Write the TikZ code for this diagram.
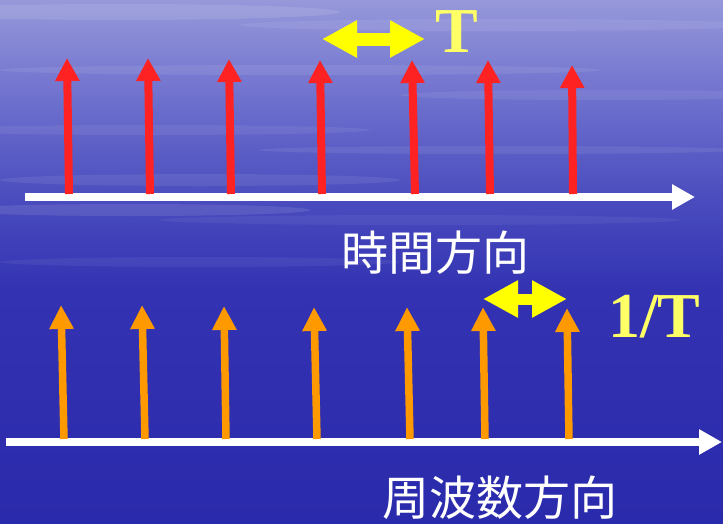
\documentclass[tikz,border=0pt]{standalone}
\usepackage{fontspec}
\setmainfont{Liberation Serif}
\newfontfamily\jpfont{Noto Sans CJK JP}
\usetikzlibrary{arrows.meta}
\definecolor{bgA}{RGB}{150,152,218}
\definecolor{bgB}{RGB}{108,110,205}
\definecolor{bgC}{RGB}{74,76,190}
\definecolor{bgD}{RGB}{50,50,178}
\definecolor{bgE}{RGB}{42,42,172}
\definecolor{redc}{RGB}{255,34,34}
\definecolor{orangec}{RGB}{255,153,0}
\definecolor{yellowc}{RGB}{255,255,0}
\definecolor{ytext}{RGB}{255,255,102}
\pgfdeclareverticalshading{bgshade}{100bp}{color(0bp)=(bgE); color(25bp)=(bgE); color(47bp)=(bgD); color(56bp)=(bgC); color(65bp)=(bgB); color(75bp)=(bgA); color(100bp)=(bgA)}
\begin{document}
\begin{tikzpicture}[x=1pt,y=-1pt,
  redarrow/.style={draw=redc, line width=8pt, -{Triangle[length=23pt,width=23pt]}},
  orarrow/.style={draw=orangec, line width=7.5pt, -{Triangle[length=24pt,width=23pt]}},
  axisarrow/.style={draw=white, line width=8.5pt, -{Triangle[length=23pt,width=24pt]}},
  dblarrow/.style={draw=yellowc, line width=#1, {Triangle[length=35pt,width=35pt]}-{Triangle[length=35pt,width=35pt]}},
  jp/.style={font=\jpfont\fontsize{47}{50}\selectfont, text=white, inner sep=0pt, anchor=base},
  ylabel/.style={font=\bfseries\fontsize{64}{66}\selectfont, text=ytext, inner sep=0pt, anchor=base west},
  streak/.style={fill=white, fill opacity=#1}]
\useasboundingbox (0,0) rectangle (723,523);
\shade[shading=bgshade] (0,0) rectangle (723,523);
% faint streaks
\fill[streak=0.10] (120,12) ellipse (220 and 8);
\fill[streak=0.08] (500,25) ellipse (260 and 6);
\fill[streak=0.08] (300,70) ellipse (300 and 5);
\fill[streak=0.07] (600,95) ellipse (200 and 5);
\fill[streak=0.07] (150,130) ellipse (220 and 5);
\fill[streak=0.08] (500,150) ellipse (240 and 4);
\fill[streak=0.08] (200,180) ellipse (200 and 6);
\fill[streak=0.10] (130,210) ellipse (180 and 6);
\fill[streak=0.06] (420,220) ellipse (260 and 5);
\fill[streak=0.06] (200,262) ellipse (200 and 5);
% top axis
\coordinate (ta0) at (25,197);
\coordinate (ta1) at (695,197);
\draw[axisarrow] (ta0) -- (ta1);
% red arrows
\foreach \i/\xb/\xt/\yt in {1/69/67/58, 2/150/148/58, 3/231/229/59, 4/322/320/60, 5/415/412/60, 6/490/488/60, 7/573/572/65}{
  \coordinate (rb\i) at (\xb,194);
  \coordinate (rt\i) at (\xt,\yt);
  \draw[redarrow] (rb\i) -- (rt\i);
}
% bottom axis
\coordinate (ba0) at (6,442);
\coordinate (ba1) at (722,442);
\draw[axisarrow] (ba0) -- (ba1);
% orange arrows
\foreach \i/\xb/\xt/\yt in {1/64/61/305, 2/145/142/305, 3/226/224/306, 4/317/314/307, 5/410/407/307, 6/485/483/307, 7/569/567/308}{
  \coordinate (ob\i) at (\xb,439);
  \coordinate (ot\i) at (\xt,\yt);
  \draw[orarrow] (ob\i) -- (ot\i);
}
% yellow double arrows
\coordinate (ya0) at (322,39);
\coordinate (ya1) at (425,39);
\draw[dblarrow=13pt] (ya0) -- (ya1);
\coordinate (yb0) at (483,299);
\coordinate (yb1) at (567,299);
\draw[dblarrow=11pt] (yb0) -- (yb1);
% labels
\node[ylabel] (T) at (435,52) {T};
\node[ylabel] (invT) at (608,337) {1/T};
\node[jp] (time) at (435,270) {時間方向};
\node[jp] (freq) at (500,515) {周波数方向};
\end{tikzpicture}
\end{document}
